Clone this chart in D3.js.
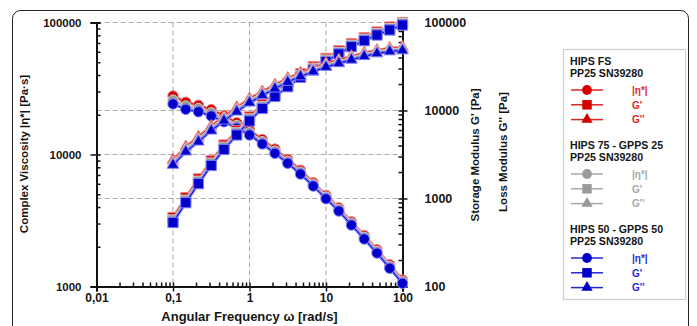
<!DOCTYPE html>
<html><head><meta charset="utf-8">
<script src="https://cdn.jsdelivr.net/npm/d3@7"></script>
<style>
html,body{margin:0;padding:0;background:#fff;}
svg{display:block;font-family:"Liberation Sans",Arial,sans-serif;}
</style></head>
<body><svg id="c" width="697" height="326"></svg>
<script>
// ---- data ----
const omega = [0.1, 0.147, 0.215, 0.316, 0.464, 0.681, 1, 1.47, 2.15, 3.16, 4.64, 6.81, 10, 14.7, 21.5, 31.6, 46.4, 68.1, 100];

const etaFS   = [27800, 24900, 23600, 21900, 19650, 17400, 15300, 13000, 11000, 9180, 7600, 6120, 4900, 3950, 3090, 2430, 1900, 1460, 1120];
const etaB75  = [25800, 23300, 22300, 20700, 18650, 16600, 14650, 12500, 10600, 8880, 7350, 5950, 4760, 3840, 3010, 2360, 1845, 1418, 1088];
const etaB50  = [24150, 21980, 21080, 19580, 17700, 15850, 14060, 12020, 10210, 8580, 7110, 5770, 4620, 3730, 2920, 2290, 1790, 1375, 1057];

const gpFS    = [608, 1020, 1670, 2680, 4050, 5880, 8440, 11650, 15900, 20450, 26100, 31500, 39100, 47700, 57600, 67300, 78000, 88800, 99500];
const gpB75   = [570, 955, 1570, 2520, 3820, 5570, 8010, 11080, 15150, 19530, 24950, 30150, 37450, 45750, 55300, 64700, 75000, 85500, 96800];
const gpB50   = [533, 896, 1473, 2372, 3606, 5272, 7603, 10540, 14430, 18630, 23830, 28840, 35870, 43870, 53090, 62130, 72080, 82220, 93640];

const gppFS   = [2740, 3870, 5000, 6640, 8580, 10820, 13630, 16400, 19550, 23250, 26750, 30400, 34200, 37600, 41200, 45100, 48500, 51100, 52400];
const gppB75  = [2570, 3640, 4710, 6260, 8110, 10250, 12940, 15600, 18620, 22160, 25530, 29050, 32680, 35970, 39410, 43190, 46440, 48910, 50160];
const gppB50  = [2404, 3405, 4418, 5890, 7650, 9690, 12260, 14800, 17700, 21090, 24330, 27710, 31190, 34340, 37640, 41280, 44430, 46810, 48050];

const xTicks = [0.01, 0.1, 1, 10, 100];
const xTickLabels = ["0,01", "0,1", "1", "10", "100"];
const yLeftTicks = [1000, 10000, 100000];
const yRightTicks = [100, 1000, 10000, 100000];

const groupNames = [["HIPS FS", "PP25 SN39280"], ["HIPS 75 - GPPS 25", "PP25 SN39280"], ["HIPS 50 - GPPS 50", "PP25 SN39280"]];
const legendLabels = ["|\u03b7*|", "G'", "G''"];

// ---- styles ----
const groupColors = ["#d40000", "#9a9a9a", "#0000c8"];
const haloColors  = ["#f08080", "#cfcfcf", "#7f7fff"];
const textColors  = ["#e02828", "#a8a8a8", "#2828d8"];

const svg = d3.select("#c");

// outer frame
svg.append("rect").attr("x", 12.5).attr("y", 10.5).attr("width", 676).attr("height", 330)
  .attr("rx", 8).attr("fill", "#fff").attr("stroke", "#222").attr("stroke-width", 1);

const x = d3.scaleLog().domain([0.01, 100]).range([96.5, 402.5]);
const yL = d3.scaleLog().domain([1000, 100000]).range([286.5, 22.5]);
const yR = d3.scaleLog().domain([100, 100000]).range([286.5, 22.5]);

// grid
const grid = svg.append("g").attr("stroke", "#a8a8a8").attr("stroke-width", 1).attr("stroke-dasharray", "5,3").attr("fill", "none");
[0.1, 1, 10].forEach(v => grid.append("line").attr("x1", x(v)).attr("x2", x(v)).attr("y1", 22.5).attr("y2", 286.5));
grid.append("line").attr("x1", 96.5).attr("x2", 402.5).attr("y1", yL(100000)).attr("y2", yL(100000));
grid.append("line").attr("x1", 96.5).attr("x2", 402.5).attr("y1", yL(10000)).attr("y2", yL(10000));
[1000, 10000].forEach(v => grid.append("line").attr("x1", 96.5).attr("x2", 402.5).attr("y1", yR(v)).attr("y2", yR(v)));

function minorVals(lo, hi) { const a = []; for (let d = lo; d < hi; d *= 10) for (let k = 1; k <= 10; k++) a.push(d * k); return Array.from(new Set(a)); }

function styleAxis(g, fs) {
  g.select(".domain").attr("stroke", "#111").attr("stroke-width", 2);
  g.selectAll(".tick line").attr("stroke", "#111").attr("stroke-width", 1.5);
  g.selectAll("text").attr("font-size", fs).attr("font-weight", "bold").attr("fill", "#151515").attr("font-family", "'Liberation Sans',Arial,sans-serif");
}

// left axis
const gL = svg.append("g").attr("transform", "translate(96.5,0)")
  .call(d3.axisLeft(yL).tickValues(yLeftTicks).tickSize(6).tickPadding(9).tickFormat(d3.format("d")));
styleAxis(gL, 11.5);
const gLi = svg.append("g").attr("transform", "translate(96.5,0)")
  .call(d3.axisRight(yL).tickValues(minorVals(1000, 100000)).tickSize(4).tickFormat(""));
styleAxis(gLi, 10);

// right axis
const gR = svg.append("g").attr("transform", "translate(402.5,0)")
  .call(d3.axisRight(yR).tickValues(yRightTicks).tickSize(5).tickPadding(17).tickFormat(d3.format("d")));
styleAxis(gR, 12.5);
const gRi = svg.append("g").attr("transform", "translate(402.5,0)")
  .call(d3.axisLeft(yR).tickValues(minorVals(100, 100000)).tickSize(4).tickFormat(""));
styleAxis(gRi, 10);

// bottom axis
const gB = svg.append("g").attr("transform", "translate(0,286.5)")
  .call(d3.axisBottom(x).tickValues(xTicks).tickSize(5).tickPadding(2).tickFormat((d, i) => xTickLabels[i]));
styleAxis(gB, 12);
const gBi = svg.append("g").attr("transform", "translate(0,286.5)")
  .call(d3.axisTop(x).tickValues(minorVals(0.01, 100)).tickSize(4).tickFormat(""));
styleAxis(gBi, 10);

// axis titles
svg.append("text").attr("x", 249.5).attr("y", 321).attr("text-anchor", "middle")
  .attr("font-size", 13).attr("font-weight", "bold").attr("fill", "#151515")
  .text("Angular Frequency \u03c9  [rad/s]");
svg.append("text").attr("transform", "translate(28,154) rotate(-90)").attr("text-anchor", "middle")
  .attr("font-size", 11.5).attr("font-weight", "bold").attr("fill", "#151515")
  .text("Complex Viscosity |\u03b7*|  [Pa\u00b7s]");
svg.append("text").attr("transform", "translate(479,155) rotate(-90)").attr("text-anchor", "middle")
  .attr("font-size", 11.5).attr("font-weight", "bold").attr("fill", "#151515")
  .text("Storage Modulus G'  [Pa]");
svg.append("text").attr("transform", "translate(507,152) rotate(-90)").attr("text-anchor", "middle")
  .attr("font-size", 11.5).attr("font-weight", "bold").attr("fill", "#151515")
  .text("Loss Modulus G''  [Pa]");

// series
const symbols = [d3.symbolCircle, d3.symbolSquare, d3.symbolTriangle];
const symSizes = [85, 105, 58];
const seriesSets = [
  {sym: 0, scale: yL, data: [etaFS, etaB75, etaB50]},
  {sym: 1, scale: yR, data: [gpFS, gpB75, gpB50]},
  {sym: 2, scale: yR, data: [gppFS, gppB75, gppB50]}
];
const plot = svg.append("g");
seriesSets.forEach(s => {
  s.data.forEach((vals, gi) => {
    const pts = omega.map((o, i) => [x(o), s.scale(vals[i])]);
    const line = d3.line();
    plot.append("path").attr("d", line(pts)).attr("fill", "none").attr("stroke", haloColors[gi]).attr("stroke-width", 3);
    plot.append("path").attr("d", line(pts)).attr("fill", "none").attr("stroke", groupColors[gi]).attr("stroke-width", 1);
    plot.selectAll(null).data(pts).enter().append("path")
      .attr("transform", d => `translate(${d[0]},${d[1]})`)
      .attr("d", d3.symbol().type(symbols[s.sym]).size(symSizes[s.sym]))
      .attr("fill", groupColors[gi]).attr("stroke", haloColors[gi]).attr("stroke-width", 1);
  });
});

// legend
const lg = svg.append("g");
lg.append("rect").attr("x", 563.5).attr("y", 49.5).attr("width", 122).attr("height", 250)
  .attr("fill", "#fff").attr("stroke", "#cfcfcf").attr("stroke-width", 1.2);
const groupTop = [61, 145, 229];
const rowGap = 14.8;
groupNames.forEach((names, gi) => {
  const t = groupTop[gi];
  names.forEach((n, k) => lg.append("text").attr("x", 570).attr("y", t + 4 + k * 12.4)
    .attr("font-size", 10.6).attr("font-weight", "bold").attr("fill", "#151515").text(n));
  legendLabels.forEach((lab, r) => {
    const cy = t + 29 + r * rowGap;
    lg.append("line").attr("x1", 571).attr("x2", 603).attr("y1", cy).attr("y2", cy)
      .attr("stroke", groupColors[gi]).attr("stroke-width", 1.5).attr("opacity", 0.85);
    lg.append("path").attr("transform", `translate(587,${cy})`)
      .attr("d", d3.symbol().type(symbols[r]).size([75, 90, 55][r]))
      .attr("fill", groupColors[gi]);
    lg.append("text").attr("x", 632).attr("y", cy + 3.8).attr("font-size", 10).attr("font-weight", "bold")
      .attr("fill", textColors[gi]).text(lab);
  });
});
</script></body></html>
